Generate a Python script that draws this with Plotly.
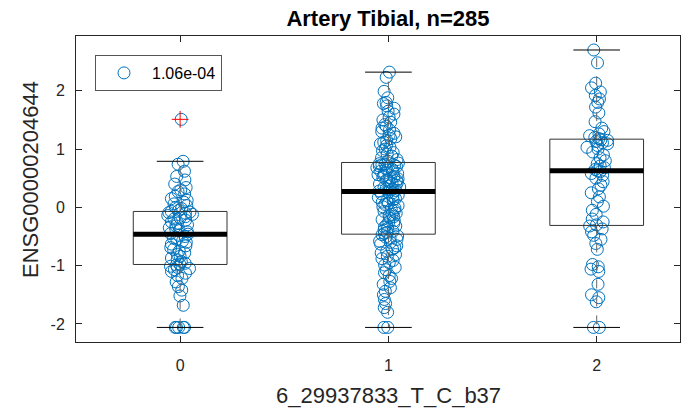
import plotly.graph_objects as go

# ---------------- data ----------------
genotypes = [0, 1, 2]
tick_labels = ['0', '1', '2']
y_tick_vals = [-2, -1, 0, 1, 2]
y_tick_labels = ['-2', '-1', '0', '1', '2']

expr_g0 = [
    -2.06, -2.06, -2.06, -2.06, -2.06, -1.68, -1.52, -1.42, -1.36, -1.28,
    -1.22, -1.17, -1.13, -1.10, -1.07, -1.05, -1.03, -1.01, -0.99, -0.98,
    -0.96, -0.93, -0.90, -0.87, -0.84, -0.81, -0.78, -0.75, -0.72, -0.69,
    -0.66, -0.63, -0.60, -0.58, -0.55, -0.53, -0.50, -0.48, -0.46, -0.45,
    -0.42, -0.40, -0.37, -0.35, -0.32, -0.30, -0.27, -0.25, -0.22, -0.20,
    -0.18, -0.16, -0.14, -0.12, -0.10, -0.09, -0.08, -0.07, -0.05, -0.02,
    0.00, 0.03, 0.06, 0.09, 0.12, 0.15, 0.19, 0.23, 0.27, 0.30,
    0.34, 0.40, 0.47, 0.53, 0.62, 0.74, 0.79, 1.51,
]
expr_g1 = [
    -2.06, -2.06, -1.80, -1.72, -1.65, -1.58, -1.50, -1.44, -1.38, -1.32,
    -1.27, -1.22, -1.17, -1.12, -1.07, -1.03, -0.99, -0.95, -0.91, -0.88,
    -0.84, -0.81, -0.78, -0.75, -0.72, -0.69, -0.66, -0.63, -0.60, -0.58,
    -0.55, -0.53, -0.51, -0.49, -0.47, -0.45, -0.43, -0.41, -0.39, -0.36,
    -0.34, -0.32, -0.30, -0.27, -0.25, -0.23, -0.21, -0.18, -0.16, -0.14,
    -0.12, -0.10, -0.07, -0.05, -0.03, -0.01, 0.01, 0.03, 0.05, 0.07,
    0.09, 0.11, 0.13, 0.15, 0.17, 0.19, 0.21, 0.23, 0.25, 0.26,
    0.28, 0.29, 0.31, 0.32, 0.34, 0.35, 0.37, 0.38, 0.40, 0.41,
    0.43, 0.44, 0.46, 0.47, 0.49, 0.50, 0.52, 0.53, 0.55, 0.56,
    0.58, 0.59, 0.61, 0.62, 0.64, 0.65, 0.67, 0.68, 0.70, 0.71,
    0.72, 0.73, 0.74, 0.75, 0.76, 0.79, 0.82, 0.85, 0.88, 0.91,
    0.94, 0.97, 1.00, 1.03, 1.06, 1.09, 1.12, 1.15, 1.18, 1.21,
    1.24, 1.27, 1.30, 1.33, 1.36, 1.39, 1.42, 1.46, 1.50, 1.55,
    1.60, 1.65, 1.70, 1.74, 1.78, 1.80, 1.88, 1.99, 2.23, 2.32,
]
expr_g2 = [
    -2.06, -2.06, -1.62, -1.55, -1.50, -1.32, -1.10, -1.06, -1.02, -0.98,
    -0.72, -0.62, -0.55, -0.48, -0.42, -0.37, -0.32, -0.30, -0.25, -0.20,
    -0.12, -0.05, 0.02, 0.10, 0.18, 0.25, 0.32, 0.38, 0.44, 0.50,
    0.55, 0.58, 0.61, 0.63, 0.65, 0.68, 0.71, 0.75, 0.80, 0.85,
    0.90, 0.95, 1.00, 1.03, 1.06, 1.09, 1.11, 1.13, 1.15, 1.16,
    1.18, 1.20, 1.23, 1.26, 1.30, 1.36, 1.47, 1.62, 1.72, 1.80,
    1.86, 1.92, 1.98, 2.05, 2.13, 2.48, 2.70,
]

# box statistics (MATLAB boxplot)
q1 = [-0.98, -0.46, -0.31]
medians = [-0.46, 0.27, 0.63]
q3 = [-0.07, 0.77, 1.17]
whisker_lo = [-2.06, -2.06, -2.06]
whisker_hi = [0.79, 2.32, 2.70]
outlier_x = [0]
outlier_y = [1.51]

legend_label = '1.06e-04'
title_text = 'Artery Tibial, n=285'
x_title = '6_29937833_T_C_b37'
y_title = 'ENSG00000204644'

# ---------------- style ----------------
W, H = 692, 411
ML, MR, MT, MB = 76, 12, 36, 69
FONT = 'Liberation Sans, Arial, Helvetica, sans-serif'
AX = '#262626'
BLUE = '#0072BD'
BOX_HW = 0.225
CAP_HW = 0.112

fig = go.Figure()

# box outlines
bx, by = [], []
for g, a, b in zip(genotypes, q1, q3):
    bx += [g - BOX_HW, g + BOX_HW, g + BOX_HW, g - BOX_HW, g - BOX_HW, None]
    by += [a, a, b, b, a, None]
fig.add_trace(go.Scatter(x=bx, y=by, mode='lines', line=dict(color='#333333', width=1),
                         showlegend=False, hoverinfo='skip'))

# whiskers (dashed)
wx, wy = [], []
for g, a, b, lo, hi in zip(genotypes, q1, q3, whisker_lo, whisker_hi):
    wx += [g, g, None, g, g, None]
    wy += [b, hi, None, a, lo, None]
fig.add_trace(go.Scatter(x=wx, y=wy, mode='lines', line=dict(color='#666666', width=1, dash='dash'),
                         showlegend=False, hoverinfo='skip'))

# whisker caps
cx, cy = [], []
for g, lo, hi in zip(genotypes, whisker_lo, whisker_hi):
    cx += [g - CAP_HW, g + CAP_HW, None, g - CAP_HW, g + CAP_HW, None]
    cy += [hi, hi, None, lo, lo, None]
fig.add_trace(go.Scatter(x=cx, y=cy, mode='lines', line=dict(color='#000000', width=1),
                         showlegend=False, hoverinfo='skip'))

# medians (thick)
mx, my = [], []
for g, m in zip(genotypes, medians):
    mx += [g - BOX_HW, g + BOX_HW, None]
    my += [m, m, None]
fig.add_trace(go.Scatter(x=mx, y=my, mode='lines', line=dict(color='#000000', width=5),
                         showlegend=False, hoverinfo='skip'))

# jittered sample points
all_x = [genotypes[0]] * len(expr_g0) + [genotypes[1]] * len(expr_g1) + [genotypes[2]] * len(expr_g2)
all_y = expr_g0 + expr_g1 + expr_g2
fig.add_trace(go.Box(
    x=all_x, y=all_y, boxpoints='all', jitter=0.42, pointpos=0, width=0.3,
    line=dict(width=0), fillcolor='rgba(0,0,0,0)',
    marker=dict(symbol='circle-open', size=12, color=BLUE, line=dict(width=1, color=BLUE)),
    showlegend=False, hoveron='points',
))

# outlier marker
fig.add_trace(go.Scatter(x=outlier_x, y=outlier_y, mode='markers',
                         marker=dict(symbol='cross-thin', size=12, color='red',
                                     line=dict(color='red', width=1)),
                         showlegend=False))

# legend entry
fig.add_trace(go.Scatter(x=[None], y=[None], mode='markers', name=legend_label,
                         marker=dict(symbol='circle-open', size=12, color=BLUE,
                                     line=dict(width=1, color=BLUE)),
                         showlegend=True))

axis_common = dict(
    showline=True, linecolor=AX, linewidth=1, mirror='ticks',
    ticks='inside', ticklen=6, tickcolor=AX, tickwidth=1,
    showgrid=False, zeroline=False,
    tickfont=dict(family=FONT, size=16, color=AX),
)

fig.update_layout(
    width=W, height=H,
    margin=dict(l=ML, r=MR, t=MT, b=MB),
    paper_bgcolor='white', plot_bgcolor='white',
    font=dict(family=FONT, color=AX),
    title=dict(text=title_text, x=388 / W, xref='container', xanchor='center',
               y=1 - 18 / H, yref='container', yanchor='middle',
               font=dict(family=FONT, size=22, color='#000000', weight='bold')),
    xaxis=dict(range=[-0.5, 2.40], tickvals=genotypes, ticktext=tick_labels,
               ticklabelstandoff=9, **axis_common),
    yaxis=dict(range=[-2.31, 2.94], tickvals=y_tick_vals, ticktext=y_tick_labels,
               ticklabelstandoff=7, **axis_common),
    legend=dict(x=(95 - ML) / (W - ML - MR), y=1 - (55 - MT) / (H - MT - MB),
                xanchor='left', yanchor='top', bgcolor='white',
                bordercolor='#555555', borderwidth=1, itemwidth=46,
                font=dict(family=FONT, size=16, color='#000000')),
    showlegend=True,
    annotations=[
        dict(text=x_title, xref='paper', yref='paper',
             x=(388 - ML) / (W - ML - MR), y=-(395 - (H - MB)) / (H - MT - MB),
             xanchor='center', yanchor='middle', showarrow=False,
             font=dict(family=FONT, size=22, color=AX)),
        dict(text=y_title, xref='paper', yref='paper', textangle=-90,
             x=(30 - ML) / (W - ML - MR), y=1 - (180 - MT) / (H - MT - MB),
             xanchor='center', yanchor='middle', showarrow=False,
             font=dict(family=FONT, size=22, color=AX)),
    ],
)

fig.write_html('out.html')
